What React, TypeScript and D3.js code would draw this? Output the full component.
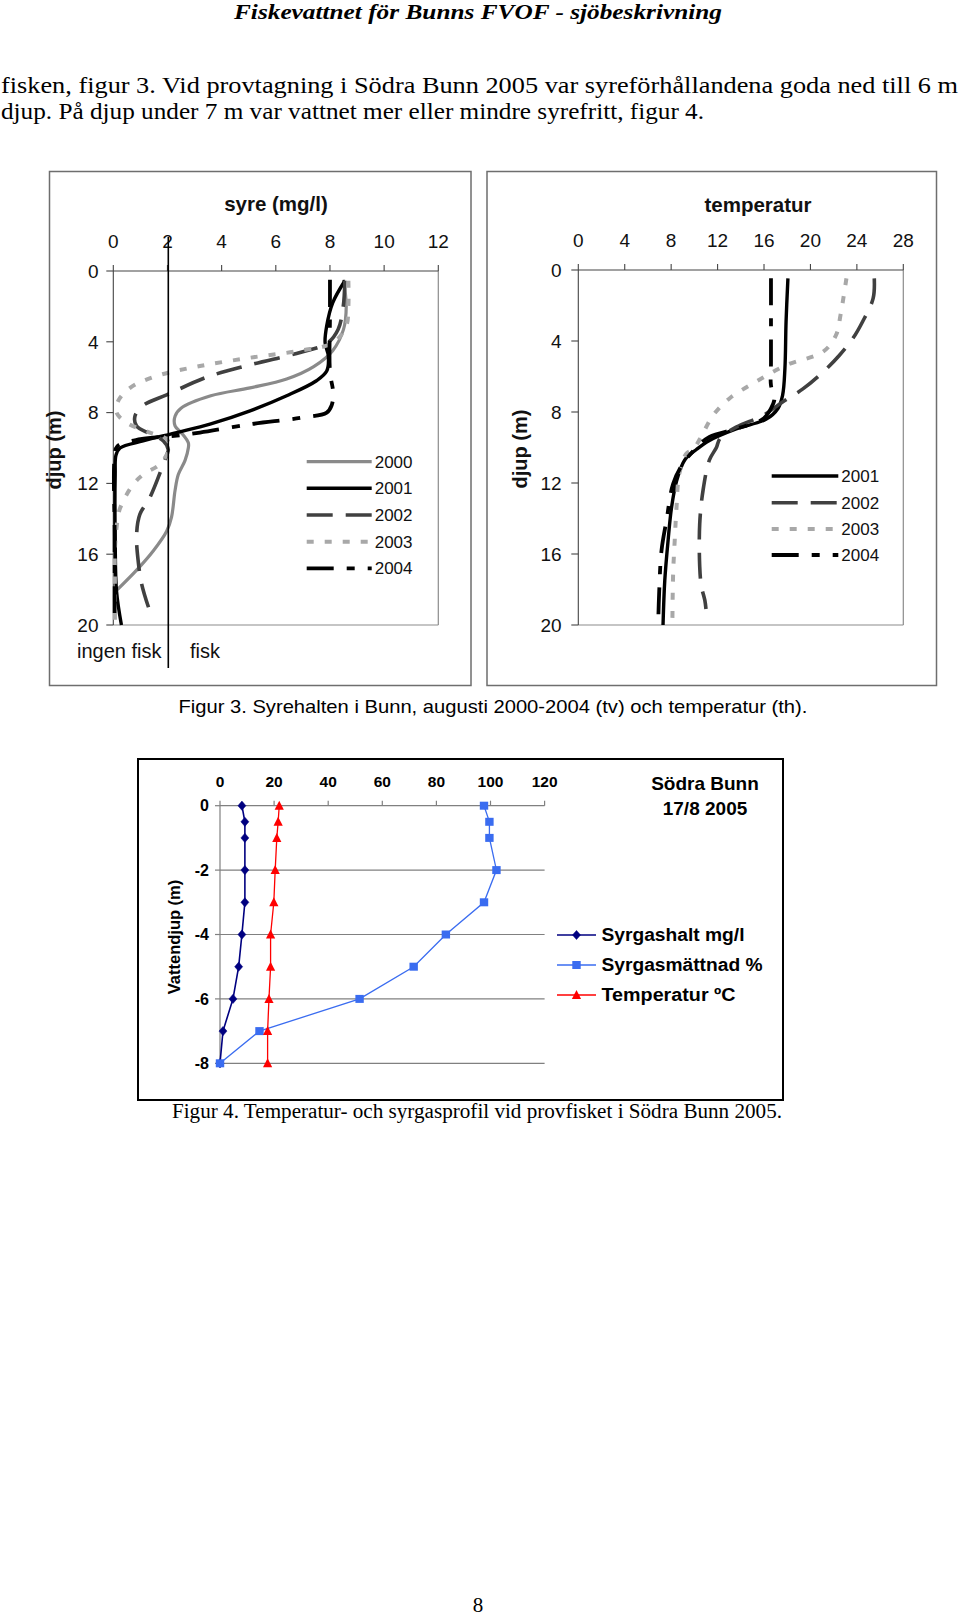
import React from 'react';
import * as d3 from 'd3';

// ---------- Figure 3 (left): syre (mg/l) vs depth, pairs [value, depth] ----------
const oxyTicks = [0, 2, 4, 6, 8, 10, 12];
const depthTicks = [0, 4, 8, 12, 16, 20];
const oxyYears = ['2000', '2001', '2002', '2003', '2004'];

const oxy2000: [number, number][] = [[8.5,0.5],[8.6,2.0],[8.5,3.3],[8.1,4.5],[7.4,5.4],[6.4,6.1],[5.05,6.6],[3.6,7.05],[2.5,7.75],[2.28,8.2],[2.28,8.75],[2.52,9.15],[2.77,9.7],[2.77,10.0],[2.65,10.7],[2.4,11.5],[2.28,12.4],[2.15,13.9],[1.97,14.7],[1.48,15.8],[0.86,16.9],[0.15,18.0]];
const oxy2001: [number, number][] = [[8.55,0.55],[8.1,1.8],[7.88,3.1],[7.82,4.05],[7.94,4.8],[7.88,5.65],[7.5,6.2],[6.4,7.05],[5.05,7.9],[3.57,8.65],[2.34,9.13],[1.1,9.6],[0.25,10.0],[0.1,10.4],[0.07,11.5],[0.07,15.3],[0.12,18.1],[0.3,20]];
const oxy2002: [number, number][] = [[8.55,0.55],[8.49,2.0],[8.3,3.3],[7.88,4.1],[6.9,4.6],[5.05,5.3],[3.45,6.0],[1.97,7.0],[1.1,7.6],[0.8,8.2],[0.86,8.76],[1.35,9.2],[1.85,9.6],[2.03,10.1],[1.97,10.4],[1.85,10.9],[1.35,12.8],[0.98,13.75],[0.86,14.9],[0.92,16.4],[1.05,17.7],[1.3,19.0]];
const oxy2003: [number, number][] = [[8.68,0.55],[8.68,2.0],[8.6,3.1],[8.12,4.05],[6.9,4.5],[5.05,4.9],[3.2,5.37],[1.6,5.93],[0.62,6.6],[0.18,7.34],[0.12,8.0],[0.49,8.57],[1.35,9.13],[1.97,9.5],[2.06,10.0],[1.73,10.9],[1.1,11.5],[0.74,12.05],[0.25,13.4],[0.12,14.5],[0.06,15.8],[0.06,17.7],[0.06,19.9]];
const oxy2004: [number, number][] = [[8.0,0.5],[8.0,2.5],[8.0,5.7],[8.12,6.9],[8.06,7.6],[7.88,8.0],[6.9,8.3],[5.05,8.66],[3.2,9.13],[2.34,9.3],[1.0,9.5],[0.15,9.9],[0.05,10.5],[0.05,15],[0.05,20]];

// ---------- Figure 3 (right): temperatur vs depth ----------
const tempTicks = [0, 4, 8, 12, 16, 20, 24, 28];
const tempYears = ['2001', '2002', '2003', '2004'];
const temp2001: [number, number][] = [[18.06,0.47],[17.9,2.9],[17.8,5.56],[17.6,7.06],[17.2,7.8],[16.2,8.4],[13.6,8.95],[11.3,9.6],[10.2,10.1],[9.17,10.7],[8.46,11.9],[8.03,13.4],[7.74,15.2],[7.45,17.5],[7.3,20]];
const temp2002: [number, number][] = [[25.5,0.47],[25.4,1.6],[24.5,2.9],[23.65,3.86],[22.5,4.8],[21.1,5.74],[19.35,6.7],[17.6,7.44],[15.9,8.2],[13.6,8.85],[12.2,9.5],[11.9,10.0],[11.3,10.7],[10.75,12.4],[10.46,14.3],[10.46,16.7],[10.6,17.8],[10.9,18.6],[11.0,19.1]];
const temp2003: [number, number][] = [[23.1,0.47],[22.6,2.5],[22.2,3.67],[21.1,4.6],[17.9,5.37],[15.3,6.3],[13.0,7.25],[11.6,8.2],[10.5,9.5],[9.9,10.1],[9.3,10.35],[8.7,11.5],[8.46,13.4],[8.31,15.2],[8.17,17.1],[8.11,19.6]];
const temp2004: [number, number][] = [[16.6,0.47],[16.6,5.2],[16.6,6.5],[16.9,7.25],[16.6,7.8],[15.9,8.4],[13.6,8.95],[11.3,9.4],[10.2,10.0],[9.03,10.9],[8.17,12.05],[7.6,14.1],[7.17,15.8],[6.97,18.1],[6.88,20]];

// ---------- Figure 4: Södra Bunn 17/8 2005 ----------
const f4XTicks = [0, 20, 40, 60, 80, 100, 120];
const f4YTicks = [0, -2, -4, -6, -8];
const f4Depth = [0, -0.5, -1, -2, -3, -4, -5, -6, -7, -8];
const f4Syrgashalt = [8.1, 9.2, 9.2, 9.2, 9.2, 8.1, 6.9, 4.8, 1.1, 0];
const f4Syrgasmattnad = [97.6, 99.6, 99.6, 102.2, 97.6, 83.5, 71.6, 51.6, 14.6, 0];
const f4Temperatur = [21.9, 21.5, 21.0, 20.4, 19.9, 18.7, 18.7, 18.1, 17.6, 17.6];
const f4Labels = ['Syrgashalt mg/l', 'Syrgasmättnad %', 'Temperatur ºC'];
const f4LabelWidths = [143, 161, 134];

// ---------- Text ----------
const headerText = 'Fiskevattnet för Bunns FVOF - sjöbeskrivning';
const bodyLine1 = 'fisken, figur 3. Vid provtagning i Södra Bunn 2005 var syreförhållandena goda ned till 6 m';
const bodyLine2 = 'djup. På djup under 7 m var vattnet mer eller mindre syrefritt, figur 4.';
const caption3 = 'Figur 3. Syrehalten i Bunn, augusti 2000-2004 (tv) och temperatur (th).';
const caption4 = 'Figur 4. Temperatur- och syrgasprofil vid provfisket i Södra Bunn 2005.';

const SANS = '"Liberation Sans", Arial, sans-serif';
const SERIF = '"Liberation Serif", "Times New Roman", serif';

const styleByYear: Record<string, { stroke: string; dash?: string; width: number }> = {
  '2000': { stroke: '#8a8a8a', width: 3.2 },
  '2001': { stroke: '#000', width: 3.4 },
  '2002': { stroke: '#404040', dash: '26 13', width: 3.6 },
  '2003': { stroke: '#a8a8a8', dash: '7 11', width: 4 },
  '2004': { stroke: '#000', dash: '27 13 8 13', width: 3.8 },
};

function ProfileChart(props: {
  frame: [number, number, number, number];
  xRange: [number, number];
  yRange: [number, number];
  xDomain: [number, number];
  xTicks: number[];
  title: string;
  titleX: number;
  titleY: number;
  tickLabelY: number;
  yLabelX: number;
  yTitleX: number;
  yTitleY: number;
  series: { year: string; data: [number, number][] }[];
  legendX: [number, number];
  legendYs: number[];
}) {
  const p = props;
  const x = d3.scaleLinear().domain(p.xDomain).range(p.xRange);
  const y = d3.scaleLinear().domain([0, 20]).range(p.yRange);
  const line = d3
    .line<[number, number]>()
    .x((d) => x(d[0]))
    .y((d) => y(d[1]))
    .curve(d3.curveCatmullRom.alpha(0.5));
  const [fx, fy, fw, fh] = p.frame;
  return (
    <g fontFamily={SANS}>
      <rect x={fx} y={fy} width={fw} height={fh} fill="none" stroke="#6e6e6e" strokeWidth={1.5} />
      <line x1={p.xRange[1]} x2={p.xRange[1]} y1={p.yRange[0]} y2={p.yRange[1]} stroke="#8c8c8c" strokeWidth={1.2} />
      <line x1={p.xRange[0]} x2={p.xRange[1]} y1={p.yRange[1]} y2={p.yRange[1]} stroke="#8c8c8c" strokeWidth={1.2} />
      <line x1={p.xRange[0]} x2={p.xRange[1]} y1={p.yRange[0]} y2={p.yRange[0]} stroke="#444" strokeWidth={1.1} />
      {p.xTicks.map((t) => (
        <g key={'xt' + t}>
          <line x1={x(t)} x2={x(t)} y1={p.yRange[0]} y2={p.yRange[0] - 6} stroke="#444" strokeWidth={1.1} />
          <text x={x(t)} y={p.tickLabelY} textAnchor="middle" fontSize={19} fill="#111">{t}</text>
        </g>
      ))}
      <line x1={p.xRange[0]} x2={p.xRange[0]} y1={p.yRange[0]} y2={p.yRange[1]} stroke="#444" strokeWidth={1.1} />
      {depthTicks.map((t) => (
        <g key={'yt' + t}>
          <line x1={p.xRange[0] - 7} x2={p.xRange[0]} y1={y(t)} y2={y(t)} stroke="#444" strokeWidth={1.1} />
          <text x={p.yLabelX} y={y(t)} dy="0.36em" textAnchor="end" fontSize={19} fill="#111">{t}</text>
        </g>
      ))}
      <text x={p.titleX} y={p.titleY} textAnchor="middle" fontSize={20.5} fontWeight="bold" fill="#111">{p.title}</text>
      <text transform={`translate(${p.yTitleX},${p.yTitleY}) rotate(-90)`} textAnchor="middle" dy="0.35em" fontSize={20} fontWeight="bold" fill="#111">djup (m)</text>
      {p.series.map((s) => {
        const st = styleByYear[s.year];
        return (
          <path key={'s' + s.year} d={line(s.data) || ''} fill="none" stroke={st.stroke} strokeWidth={st.width} strokeDasharray={st.dash} strokeLinejoin="round" />
        );
      })}
      {p.series.map((s, i) => {
        const st = styleByYear[s.year];
        const ly = p.legendYs[i];
        return (
          <g key={'lg' + s.year}>
            <line x1={p.legendX[0]} x2={p.legendX[1]} y1={ly} y2={ly} stroke={st.stroke} strokeWidth={st.width} strokeDasharray={st.dash} />
            <text x={p.legendX[1] + 3} y={ly} dy="0.36em" fontSize={17} fill="#111">{s.year}</text>
          </g>
        );
      })}
    </g>
  );
}

function Figure4() {
  const x = d3.scaleLinear().domain([0, 120]).range([220, 544.6]);
  const y = d3.scaleLinear().domain([-8, 0]).range([1063.3, 805.7]);
  const mk = (vals: number[]) => vals.map((v, i) => [v, f4Depth[i]] as [number, number]);
  const line = d3.line<[number, number]>().x((d) => x(d[0])).y((d) => y(d[1]));
  const series = [
    { data: mk(f4Syrgashalt), color: '#000080', w: 1.6, shape: 'diamond' },
    { data: mk(f4Syrgasmattnad), color: '#3a6cf0', w: 1.3, shape: 'square' },
    { data: mk(f4Temperatur), color: '#ff0000', w: 1.3, shape: 'triangle' },
  ];
  const marker = (shape: string, cx: number, cy: number, color: string, key: string) => {
    if (shape === 'diamond')
      return <path key={key} d={`M${cx},${cy - 4.6}L${cx + 4},${cy}L${cx},${cy + 4.6}L${cx - 4},${cy}Z`} fill={color} stroke={color} strokeWidth={0.5} />;
    if (shape === 'square')
      return <rect key={key} x={cx - 4.2} y={cy - 4} width={8.4} height={8} fill={color} />;
    return <path key={key} d={`M${cx},${cy - 5}L${cx + 4.6},${cy + 4}L${cx - 4.6},${cy + 4}Z`} fill={color} />;
  };
  const legendYs = [935, 965, 995];
  return (
    <g fontFamily={SANS}>
      <rect x={138} y={759} width={645} height={341} fill="#fff" stroke="#000" strokeWidth={2} />
      {f4YTicks.filter((t) => t !== 0).map((t) => (
        <line key={'g' + t} x1={x(0)} x2={x(120)} y1={y(t)} y2={y(t)} stroke="#808080" strokeWidth={1.2} />
      ))}
      <line x1={x(0)} x2={x(120)} y1={y(0)} y2={y(0)} stroke="#808080" strokeWidth={1.2} />
      {f4XTicks.map((t) => (
        <g key={'x' + t}>
          <line x1={x(t)} x2={x(t)} y1={y(0)} y2={y(0) - 5} stroke="#808080" strokeWidth={1.2} />
          <text x={x(t)} y={787} textAnchor="middle" fontSize={15.5} fontWeight="bold" fill="#000">{t}</text>
        </g>
      ))}
      <line x1={x(0)} x2={x(0)} y1={y(0)} y2={y(-8)} stroke="#808080" strokeWidth={1.2} />
      {f4YTicks.map((t) => (
        <g key={'y' + t}>
          <line x1={x(0) - 5} x2={x(0)} y1={y(t)} y2={y(t)} stroke="#808080" strokeWidth={1.2} />
          <text x={209} y={y(t)} dy="0.36em" textAnchor="end" fontSize={16} fontWeight="bold" fill="#000">{t}</text>
        </g>
      ))}
      <text transform="translate(174.5,937) rotate(-90)" textAnchor="middle" dy="0.35em" fontSize={16.5} fontWeight="bold" fill="#000">Vattendjup (m)</text>
      {series.map((s, si) => (
        <g key={'s' + si}>
          <path d={line(s.data) || ''} fill="none" stroke={s.color} strokeWidth={s.w} />
          {s.data.map((d, i) => marker(s.shape, x(d[0]), y(d[1]), s.color, 'm' + si + '-' + i))}
        </g>
      ))}
      <text x={705} y={789.5} textAnchor="middle" fontSize={19} fontWeight="bold" fill="#000">Södra Bunn</text>
      <text x={705} y={814.5} textAnchor="middle" fontSize={19} fontWeight="bold" fill="#000">17/8 2005</text>
      {series.map((s, si) => (
        <g key={'l' + si}>
          <line x1={557} x2={596} y1={legendYs[si]} y2={legendYs[si]} stroke={s.color} strokeWidth={s.w} />
          {marker(s.shape, 576.5, legendYs[si], s.color, 'lm' + si)}
          <text x={601.5} y={legendYs[si]} dy="0.36em" fontSize={17.5} fontWeight="bold" textLength={f4LabelWidths[si]} lengthAdjust="spacingAndGlyphs" fill="#000">{f4Labels[si]}</text>
        </g>
      ))}
    </g>
  );
}

export default function App() {
  return (
    <svg width={960} height={1616} viewBox="0 0 960 1616" style={{ position: 'absolute', left: 0, top: 0, background: '#fff' }}>
      <rect x={0} y={0} width={960} height={1616} fill="#fff" />
      <text x={234} y={19} fontFamily={SERIF} fontStyle="italic" fontWeight="bold" fontSize={21.5} textLength={488} lengthAdjust="spacingAndGlyphs" fill="#000">{headerText}</text>
      <text x={1} y={92.5} fontFamily={SERIF} fontSize={23} textLength={957} lengthAdjust="spacingAndGlyphs" fill="#000">{bodyLine1}</text>
      <text x={1} y={119} fontFamily={SERIF} fontSize={23} textLength={703} lengthAdjust="spacingAndGlyphs" fill="#000">{bodyLine2}</text>

      <ProfileChart
        frame={[49.5, 171.5, 421.5, 514]}
        xRange={[113.3, 438.3]}
        yRange={[271, 625]}
        xDomain={[0, 12]}
        xTicks={oxyTicks}
        title="syre (mg/l)"
        titleX={276}
        titleY={211}
        tickLabelY={248}
        yLabelX={98.5}
        yTitleX={54}
        yTitleY={450}
        series={[
          { year: oxyYears[0], data: oxy2000 },
          { year: oxyYears[1], data: oxy2001 },
          { year: oxyYears[2], data: oxy2002 },
          { year: oxyYears[3], data: oxy2003 },
          { year: oxyYears[4], data: oxy2004 },
        ]}
        legendX={[306.7, 371.7]}
        legendYs={[461.7, 488.3, 515, 541.7, 568.3]}
      />
      <line x1={168.3} x2={168.3} y1={237} y2={668} stroke="#000" strokeWidth={1.6} />
      <text x={77} y={658} fontFamily={SANS} fontSize={20} fill="#111">ingen fisk</text>
      <text x={190} y={658} fontFamily={SANS} fontSize={20} fill="#111">fisk</text>

      <ProfileChart
        frame={[487, 171.5, 449.5, 514]}
        xRange={[578.3, 903.3]}
        yRange={[270, 625]}
        xDomain={[0, 28]}
        xTicks={tempTicks}
        title="temperatur"
        titleX={758}
        titleY={212}
        tickLabelY={247}
        yLabelX={561.7}
        yTitleX={520}
        yTitleY={449}
        series={[
          { year: tempYears[0], data: temp2001 },
          { year: tempYears[1], data: temp2002 },
          { year: tempYears[2], data: temp2003 },
          { year: tempYears[3], data: temp2004 },
        ]}
        legendX={[771.7, 838.3]}
        legendYs={[476, 502.7, 529, 555]}
      />

      <text x={178.4} y={713} fontFamily={SANS} fontSize={19} textLength={629} lengthAdjust="spacingAndGlyphs" fill="#000">{caption3}</text>

      <Figure4 />

      <text x={172} y={1118} fontFamily={SERIF} fontSize={20.5} textLength={610} lengthAdjust="spacingAndGlyphs" fill="#000">{caption4}</text>

      <text x={478} y={1612} textAnchor="middle" fontFamily={SERIF} fontSize={21} fill="#000">8</text>
    </svg>
  );
}
